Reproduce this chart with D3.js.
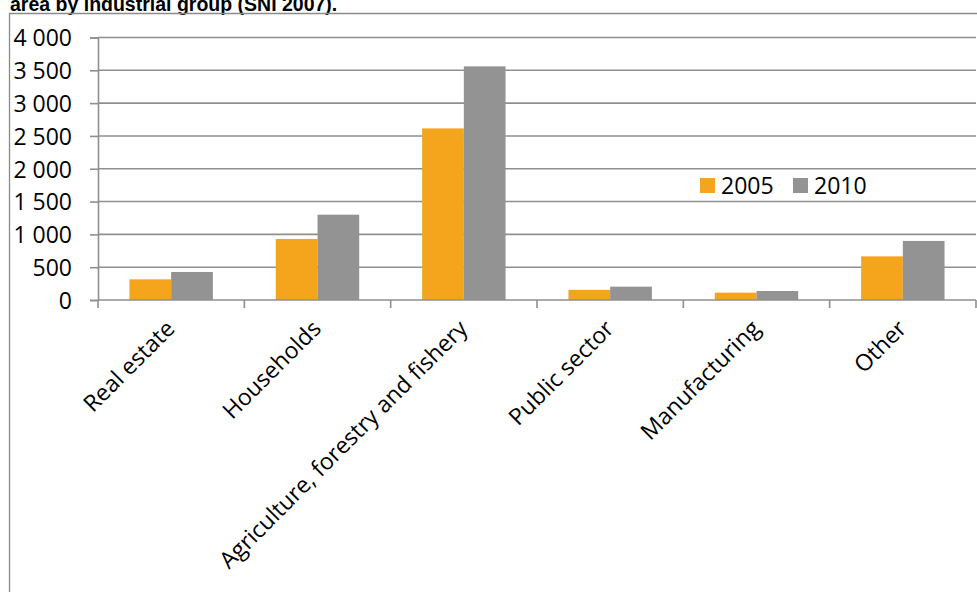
<!DOCTYPE html>
<html>
<head>
<meta charset="utf-8">
<script src="https://cdn.jsdelivr.net/npm/d3@7"></script>
<style>
  html, body { margin: 0; padding: 0; background: #fff; }
  svg { display: block; }
</style>
</head>
<body>
<svg id="chart" width="977" height="592"></svg>
<script>
// Area by industrial group, 2005 and 2010
const categories = ["Real estate", "Households", "Agriculture, forestry and fishery", "Public sector", "Manufacturing", "Other"];
const years = ["2005", "2010"];
const values2005 = [315, 930, 2615, 155, 112, 665];
const values2010 = [427, 1300, 3560, 203, 137, 900];
const yTicks = [0, 500, 1000, 1500, 2000, 2500, 3000, 3500, 4000];
const titleText = "area by industrial group (SNI 2007).";

const colors = { "2005": "#F4A51C", "2010": "#939393" };
const gridColor = "#8f8f8f";
const font = "'Open Sans', sans-serif";

const svg = d3.select("#chart");
const W = 977, H = 592;
const plot = { left: 98, right: 976, top: 37.5, bottom: 300 };

const rows = categories.map((c, i) => ({ category: c, "2005": values2005[i], "2010": values2010[i] }));

const x = d3.scaleBand().domain(categories).range([plot.left, plot.right]).padding(0);
const groupWidth = x.bandwidth() * 0.57;
const xInner = d3.scaleBand().domain(years).range([0, groupWidth]).padding(0);
const y = d3.scaleLinear().domain([0, 4000]).range([plot.bottom, plot.top]);

const locale = d3.formatLocale({ decimal: ",", thousands: " ", grouping: [3], currency: ["", ""] });
const fmt = locale.format(",d");

// title, partly above the top of the page
svg.append("text")
  .attr("x", 10).attr("y", 11)
  .attr("font-family", "'Liberation Sans', Arial, sans-serif")
  .attr("font-weight", "bold")
  .attr("font-size", 19.5)
  .attr("fill", "#000")
  .text(titleText);

// outer chart frame
svg.append("path")
  .attr("d", `M9.5,${H} V13.5 H${W}`)
  .attr("fill", "none")
  .attr("stroke", "#8a8a8a")
  .attr("stroke-width", 1.3);

// horizontal gridlines
svg.append("g")
  .selectAll("line")
  .data(yTicks.filter(t => t > 0))
  .join("line")
  .attr("x1", plot.left).attr("x2", plot.right)
  .attr("y1", d => y(d)).attr("y2", d => y(d))
  .attr("stroke", gridColor)
  .attr("stroke-width", 1.6);

// bars
const groups = svg.append("g")
  .selectAll("g")
  .data(rows)
  .join("g")
  .attr("transform", d => `translate(${x(d.category) + (x.bandwidth() - groupWidth) / 2},0)`);

groups.selectAll("rect")
  .data(d => years.map(yr => ({ year: yr, value: d[yr] })))
  .join("rect")
  .attr("x", d => xInner(d.year))
  .attr("width", xInner.bandwidth())
  .attr("y", d => y(d.value))
  .attr("height", d => y(0) - y(d.value))
  .attr("fill", d => colors[d.year]);

// y axis
const yAxis = svg.append("g")
  .attr("transform", `translate(${plot.left},0)`)
  .call(d3.axisLeft(y).tickValues(yTicks).tickSize(8).tickPadding(18).tickFormat(fmt));
yAxis.select(".domain").attr("stroke", gridColor).attr("stroke-width", 1.6);
yAxis.selectAll(".tick line").attr("stroke", gridColor).attr("stroke-width", 1.6);
yAxis.selectAll(".tick text")
  .attr("font-family", font)
  .attr("font-size", 23)
  .attr("fill", "#000")
  .attr("dy", "0.36em");

// x axis: ticks at category boundaries
const xAxisG = svg.append("g");
xAxisG.append("line")
  .attr("x1", plot.left).attr("x2", plot.right)
  .attr("y1", plot.bottom).attr("y2", plot.bottom)
  .attr("stroke", gridColor).attr("stroke-width", 1.6);
const boundaries = categories.map(c => x(c)).concat([x(categories[categories.length - 1]) + x.bandwidth()]);
xAxisG.selectAll("line.tick")
  .data(boundaries)
  .join("line")
  .attr("class", "tick")
  .attr("x1", d => d).attr("x2", d => d)
  .attr("y1", plot.bottom).attr("y2", plot.bottom + 8)
  .attr("stroke", gridColor).attr("stroke-width", 1.6);

// rotated category labels
xAxisG.selectAll("text")
  .data(categories)
  .join("text")
  .attr("transform", d => `translate(${x(d) + x.bandwidth() / 2 + 5},${plot.bottom + 30}) rotate(-45)`)
  .attr("text-anchor", "end")
  .attr("font-family", font)
  .attr("font-size", 23)
  .attr("fill", "#000")
  .text(d => d);

// legend
const legend = svg.append("g");
const legendItems = [{ year: "2005", x: 700 }, { year: "2010", x: 793 }];
legendItems.forEach(item => {
  legend.append("rect")
    .attr("x", item.x).attr("y", 178)
    .attr("width", 15).attr("height", 15)
    .attr("fill", colors[item.year]);
  legend.append("text")
    .attr("x", item.x + 21).attr("y", 193.5)
    .attr("font-family", font)
    .attr("font-size", 23)
    .attr("fill", "#000")
    .text(item.year);
});
</script>
</body>
</html>
